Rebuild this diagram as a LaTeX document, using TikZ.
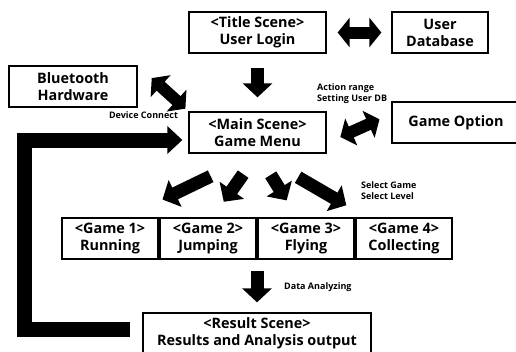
\documentclass[tikz,border=0pt]{standalone}
\usepackage{fontspec}
\setmainfont{Open Sans}
\usetikzlibrary{arrows.meta,calc}

\tikzset{
  scenebox/.style={draw, line width=1.3pt, fill=white, align=center, inner sep=0pt,
    minimum height=41pt, font=\fontsize{14.4}{17}\selectfont\bfseries},
  note/.style={inner sep=0pt, align=left, font=\fontsize{9}{11}\selectfont\bfseries},
  blockarrow/.style={line width=13pt, -{Triangle[width=29pt,length=14pt]}},
  blockboth/.style={line width=12pt, {Triangle[width=29pt,length=12pt]}-{Triangle[width=29pt,length=12pt]}},
}

\begin{document}
\begin{tikzpicture}[x=1pt,y=-1pt]
	%%%%% START %%%%%
	\useasboundingbox (0,0) rectangle (516,351);
	\clip (0,0) rectangle (516,351);

	% scenes
	\node[scenebox, minimum width=137pt] (title) at (257.5,32.5) {<Title Scene>\\User Login};
	\node[scenebox, minimum width=96pt] (userdb) at (440,32.5) {User\\Database};
	\node[scenebox, minimum width=128pt] (bluetooth) at (73,86.5) {Bluetooth\\Hardware};
	\node[scenebox, minimum width=137pt] (menu) at (257.5,132.5) {<Main Scene>\\Game Menu};
	\node[scenebox, minimum width=128pt] (option) at (456,122.5) {Game Option};

	\node[scenebox, minimum width=96pt] (running) at (110,238.5) {<Game 1>\\Running};
	\node[scenebox, minimum width=96pt] (jumping) at (208,238.5) {<Game 2>\\Jumping};
	\node[scenebox, minimum width=96pt] (flying) at (306,238.5) {<Game 3>\\Flying};
	\node[scenebox, minimum width=96pt] (collecting) at (404,238.5) {<Game 4>\\Collecting};

	\node[scenebox, minimum width=228pt, minimum height=40pt] (result) at (257,333) {<Result Scene>\\Results and Analysis output};

	% labels
	\node[note] (devconnect) at (143.5,115) {Device Connect};
	\node[note, anchor=west] (actionrange) at (317,93.5) {Action range\\Setting User DB};
	\node[note, anchor=west] (selectgame) at (361,190.5) {Select Game\\Select Level};
	\node[note, anchor=west] (analyzing) at (284,287) {Data Analyzing};

	% flow
	\draw[blockboth, shorten <=11pt, shorten >=10pt] (title) -- (userdb);
	\draw[blockarrow, shorten <=14pt, shorten >=14pt] (title) -- (menu);
	\draw[blockboth, shorten <=19pt, shorten >=4pt] (bluetooth.north east) -- (menu.north west);
	\draw[blockboth, shorten <=15pt, shorten >=13pt] ($(menu.east)!0.5!(menu.south east)$) -- ($(option.west)!0.4!(option.north west)$);

	\draw[blockarrow, shorten <=52pt, shorten >=41pt] (menu.south) -- ($(running.north west)!0.66!(running.north east)$);
	\draw[blockarrow, shorten <=25pt, shorten >=19pt] (menu.south) -- ($(jumping.north west)!0.55!(jumping.north east)$);
	\draw[blockarrow, shorten <=25pt, shorten >=20pt] (menu.south) -- ($(flying.north west)!0.41!(flying.north east)$);
	\draw[blockarrow, shorten <=47pt, shorten >=24pt] (menu.south) -- ($(collecting.north west)!0.12!(collecting.north east)$);

	\draw[blockarrow, shorten <=11pt, shorten >=10pt] ($(jumping.south east)!0.5!(flying.south west)$) -- (result.north);

	% back to the menu
	\coordinate (turn) at (24.5,329.5);
	\draw[blockarrow, line width=15pt, -{Triangle[width=27pt,length=15pt]}, shorten <=12pt, shorten >=6pt]
		([yshift=3.5pt]result.west) -- (turn) |- ([yshift=-7.5pt]menu.west);
	%%%%% END %%%%%
\end{tikzpicture}
\end{document}
